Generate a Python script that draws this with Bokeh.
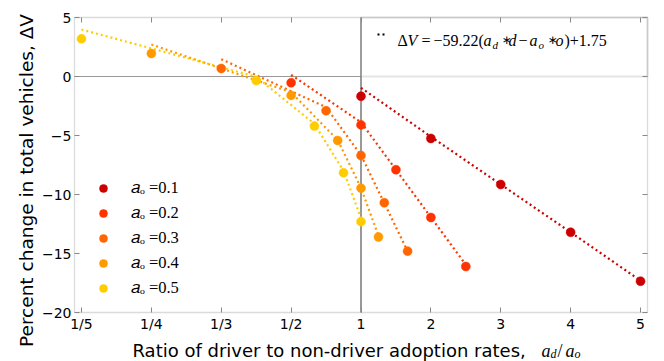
import math
from bokeh.plotting import figure
from bokeh.models import (Range1d, FixedTicker, LinearAxis, Label, Legend, BoxAnnotation,
                          LegendItem, ColumnDataSource, CustomJSTransform)
from bokeh.transform import transform
from bokeh.embed import file_html
from bokeh.resources import INLINE

# ---------------- data ----------------
ao_levels = [0.1, 0.2, 0.3, 0.4, 0.5]          # non-driver adoption rate a_o (one series each)
ad_levels = [0.1, 0.2, 0.3, 0.4, 0.5]          # driver adoption rate a_d
series_labels = ["𝑎ₒ =0.1", "𝑎ₒ =0.2", "𝑎ₒ =0.3", "𝑎ₒ =0.4", "𝑎ₒ =0.5"]
series_colors = ["#cc0000", "#ff3300", "#ff6600", "#ff9900", "#ffcc00"]

# observed percent change in total vehicles (one value per a_d)
dv_ao01 = [-1.67, -5.25, -9.15, -13.2, -17.35]
dv_ao02 = [-0.53, -4.10, -7.90, -11.95, -16.10]
dv_ao03 = [0.68, -2.90, -6.70, -10.70, -14.80]
dv_ao04 = [1.95, -1.60, -5.42, -9.46, -13.60]
dv_ao05 = [3.19, -0.34, -4.20, -8.16, -12.30]

# fitted values (dotted lines) at the same a_d
fit_ao01 = [-0.96, -5.10, -9.15, -13.20, -17.30]
fit_ao02 = [0.14, -3.88, -7.90, -11.93, -15.95]
fit_ao03 = [1.47, -2.60, -6.67, -10.73, -14.80]
fit_ao04 = [2.71, -1.34, -5.39, -9.45, -13.50]
fit_ao05 = [3.98, -0.02, -4.02, -8.00, -12.00]

dv_series = [dv_ao01, dv_ao02, dv_ao03, dv_ao04, dv_ao05]
fit_series = [fit_ao01, fit_ao02, fit_ao03, fit_ao04, fit_ao05]

# axis: ratio a_d/a_o on a "reciprocal below 1, linear above 1" scale
x_tick_pos = [-4, -3, -2, -1, 0, 1, 2, 3, 4]
x_tick_labels = ["1/5", "1/4", "1/3", "1/2", "1", "2", "3", "4", "5"]
y_ticks = [-20, -15, -10, -5, 0, 5]
y_tick_labels = ["−20", "−15", "−10", "−5", "0", "5"]

# plot box limits (axis coordinates)
box_left, box_right, box_bottom, box_top = -4.1, 4.1, -20.0, 5.0

# ---------------- figure ----------------
W, H = 664, 361
X0, SX, Y0, SY = 360.5, 69.88, 76.0, 11.8     # page-pixel <-> axis mapping
p = figure(width=W, height=H, output_backend="svg", toolbar_location=None,
           x_range=Range1d(-X0 / SX, (W - X0) / SX),
           y_range=Range1d((Y0 - H) / SY, Y0 / SY),
           x_axis_location=None, y_axis_location=None,
           min_border_left=0, min_border_right=0, min_border_top=0, min_border_bottom=0)
p.background_fill_color = "white"
p.border_fill_color = "white"
p.outline_line_color = None
p.xgrid.visible = False
p.ygrid.visible = False

ratio_scale = CustomJSTransform(v_func="""
const out = new Float64Array(xs.length);
for (let i = 0; i < xs.length; i++) {
  const r = xs[i];
  out[i] = (r >= 1 - 1e-9) ? r - 1 : 1 - 1 / r;
}
return out;
""")

def make_axis(loc, ticks, labels, show_labels):
    ax = LinearAxis(fixed_location=loc, ticker=FixedTicker(ticks=ticks))
    ax.axis_line_color = None
    ax.major_tick_in = 5
    ax.major_tick_out = 0
    ax.major_tick_line_color = "#888888"
    ax.major_tick_line_width = 1
    ax.minor_tick_line_color = None
    ax.major_label_text_font = "DejaVu Sans"
    ax.major_label_text_font_size = "14px"
    ax.major_label_standoff = 3
    if show_labels:
        ax.major_label_overrides = dict(zip(ticks, labels))
        ax.major_label_text_color = "#000000"
    else:
        ax.major_label_text_color = None
    return ax

p.add_layout(make_axis(box_bottom, x_tick_pos, x_tick_labels, True), "below")
p.add_layout(make_axis(box_left, y_ticks, y_tick_labels, True), "left")
p.add_layout(make_axis(box_top, x_tick_pos, x_tick_labels, False), "above")
p.add_layout(make_axis(box_right, y_ticks, y_tick_labels, False), "right")

# reference lines at dV = 0 and ratio = 1
p.segment(x0=[box_left], y0=[0], x1=[0], y1=[0], line_color="#999999", line_width=1.2, level="underlay")
p.segment(x0=[0], y0=[box_bottom], x1=[0], y1=[box_top], line_color="#555555", line_width=1.2, level="underlay")
# frame of the fit-formula legend (upper right quadrant)
p.add_layout(BoxAnnotation(left=0, right=box_right, bottom=0, top=box_top, fill_color=None,
                           line_color="#aaaaaa", line_width=2, level="underlay"))
# plot frame
p.add_layout(BoxAnnotation(left=box_left, right=box_right, bottom=box_bottom, top=box_top,
                           fill_color=None, line_color="#888888", line_width=1.3))

# ---------------- series ----------------
for ao, fit, col in zip(ao_levels, fit_series, series_colors):
    src = ColumnDataSource(dict(ratio=[ad / ao for ad in ad_levels], fit=fit))
    p.line(x=transform("ratio", ratio_scale), y="fit", source=src,
           line_color=col, line_width=2.2, line_dash="2 3")
scatter_renderers = []
for ao, dv, col in zip(ao_levels, dv_series, series_colors):
    src = ColumnDataSource(dict(ratio=[ad / ao for ad in ad_levels], dv=dv))
    r = p.scatter(x=transform("ratio", ratio_scale), y="dv", source=src,
                  size=9, fill_color=col, line_color=col, line_width=0.5)
    scatter_renderers.append(r)

leg = Legend(items=[LegendItem(label=lab, renderers=[r]) for lab, r in zip(series_labels, scatter_renderers)],
             location=(93, 63), glyph_width=20, glyph_height=20, label_height=20, spacing=5,
             padding=0, margin=0, label_standoff=18, border_line_color=None,
             background_fill_alpha=0, label_text_font="Liberation Serif",
             label_text_font_size="16.5px", label_text_color="#000000")
p.add_layout(leg)

fit_sample = p.line(x=[float("nan")], y=[float("nan")], line_color="black", line_width=2.2, line_dash="2 3")
leg2 = Legend(items=[LegendItem(label=" ", renderers=[fit_sample])],
              location=(377, 322), glyph_width=9, glyph_height=10, label_height=10,
              padding=0, margin=0, label_standoff=0, border_line_color=None,
              background_fill_alpha=0, label_text_font_size="10px")
p.add_layout(leg2)

# ---------------- texts (page-pixel layout -> axis coords) ----------------
def lab(text, px, py, size, font, style="normal", align="left", baseline="alphabetic", angle=0.0):
    p.add_layout(Label(x=(px - X0) / SX, y=(Y0 - py) / SY, text=text,
                       text_font_size=f"{size}px", text_font=font, text_font_style=style,
                       text_align=align, text_baseline=baseline, angle=angle,
                       text_color="#000000"))

SERIF = "Liberation Serif"
SANS = "DejaVu Sans"

# y axis label
lab("Percent change in total vehicles, ΔV", 26, 180, 18.5, SANS, align="center",
    baseline="middle", angle=math.pi / 2)

# x axis label
XB = 350
lab("Ratio of driver to non-driver adoption rates,", 132, XB, 18, SANS)
lab("a", 541, XB, 18, SERIF, "italic")
lab("d", 550, XB + 3, 12, SERIF, "italic")
lab("/", 557, XB, 18, SERIF)
lab("a", 565, XB, 18, SERIF, "italic")
lab("o", 574, XB + 3, 12, SERIF, "italic")

# fit formula
BL, SB = 40, 44
lab("Δ", 397, BL, 16, SERIF)
lab("V", 407, BL, 16, SERIF, "italic")
lab("=", 421, BL, 16, SERIF)
lab("−59.22(", 433, BL, 16, SERIF)
lab("a", 483, BL, 16, SERIF, "italic")
lab("d", 492, SB, 11, SERIF, "italic")
lab("∗", 501, BL - 1, 12, SANS)
lab("d", 508, BL, 16, SERIF, "italic")
lab("−", 518, BL, 16, SERIF)
lab("a", 529, BL, 16, SERIF, "italic")
lab("o", 538, SB, 11, SERIF, "italic")
lab("∗", 547, BL - 1, 12, SANS)
lab("o", 555, BL, 16, SERIF, "italic")
lab(")+1.75", 564, BL, 16, SERIF)

open("out.html", "w").write(file_html(p, INLINE))
